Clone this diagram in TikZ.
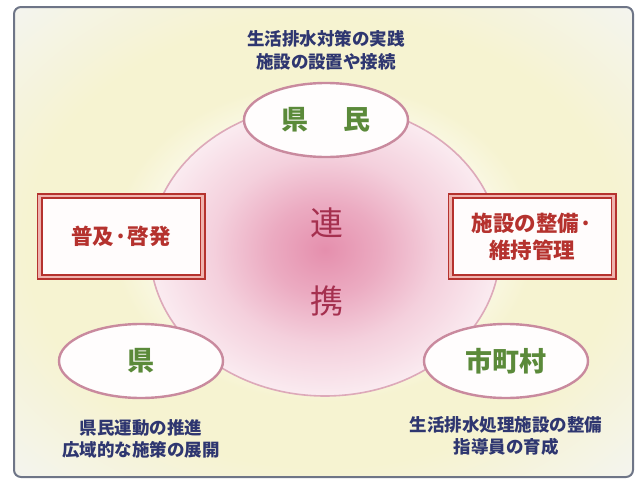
\documentclass[tikz,border=0pt]{standalone}
\usepackage{fontspec}
\newfontfamily\jpfont{Noto Sans CJK JP}
\usepackage{xcolor}
\usepackage{tikz}
\usetikzlibrary{positioning,shapes.geometric}

\definecolor{framegray}{HTML}{6E7587}
\definecolor{notenavy}{HTML}{2E3670}
\definecolor{rolegreen}{HTML}{5B8A3A}
\definecolor{roleedge}{HTML}{C98A9E}
\definecolor{taskred}{HTML}{B5322E}
\definecolor{taskpink}{HTML}{EFB3AE}
\definecolor{renkeired}{HTML}{A5304F}
\definecolor{glowpink}{HTML}{E58FAD}
\definecolor{ringpink}{HTML}{DDA9B9}
\definecolor{paleyellow}{HTML}{F6F3D1}
\definecolor{paperedge}{HTML}{F4F4EE}

\pgfdeclareradialshading{glow}{\pgfpoint{0bp}{0bp}}{color(0bp)=(glowpink); color(8bp)=(glowpink!75!white); color(16bp)=(glowpink!42!white); color(26bp)=(glowpink!15!white); color(38bp)=(glowpink!6!white); color(50bp)=(glowpink!5!white)}
\pgfdeclareradialshading{paper}{\pgfpoint{0bp}{0bp}}{color(0bp)=(white); color(10bp)=(white!88!paleyellow); color(17bp)=(paleyellow); color(24bp)=(paleyellow); color(35bp)=(paperedge); color(50bp)=(paperedge)}

\begin{document}
\begin{tikzpicture}[x=1pt, y=-1pt, node distance=10pt,
  role/.style={ellipse, draw=roleedge, line width=2.4pt, fill=white!97!pink, text=rolegreen, inner sep=0pt, minimum width=164pt, minimum height=74pt, font=\jpfont\bfseries\fontsize{27}{32}\selectfont},
  task/.style={rectangle, draw=taskred, line width=1.6pt, double=taskpink, double distance=2.8pt, fill=white!96!pink, text=taskred, inner sep=0pt, minimum width=163pt, minimum height=81pt, align=center, font=\jpfont\bfseries\fontsize{21.5}{27}\selectfont},
  note/.style={text=notenavy, align=center, inner sep=1pt, font=\jpfont\bfseries\fontsize{17.5}{22.5}\selectfont}]
\useasboundingbox (0,0) rectangle (641,482);
\path[shade, shading=paper, draw=framegray, line width=2pt, rounded corners=7pt] (14,7) rectangle (633,477);
\path[shade, shading=glow, draw=ringpink, line width=1.6pt] (325,250) ellipse [x radius=175pt, y radius=146pt];

\node (ren) [text=renkeired, inner sep=0pt, font=\jpfont\fontsize{33}{40}\selectfont] at (327,223) {連};
\node (kei) [below=47pt of ren, text=renkeired, inner sep=0pt, font=\jpfont\fontsize{33}{40}\selectfont] {携};

\node (fukyu) [task] at (121,236.5) {普及·啓発};
\node (seibi) [task] at (532,236.5) {施設の整備·\\維持管理};

\node (kenmin) [role] at (326,120) {県\hspace{36pt}民};
\node (ken) [role] at (141,361) {県};
\node (shichoson) [role] at (506,361) {市町村};

\node (kenminnote) [note, above=10.5pt of kenmin] {生活排水対策の実践\\施設の設置や接続};
\node (kennote) [note, below=19pt of ken] {県民運動の推進\\広域的な施策の展開};
\node (shichosonnote) [note, below=16pt of shichoson] {生活排水処理施設の整備\\指導員の育成};
\end{tikzpicture}
\end{document}
